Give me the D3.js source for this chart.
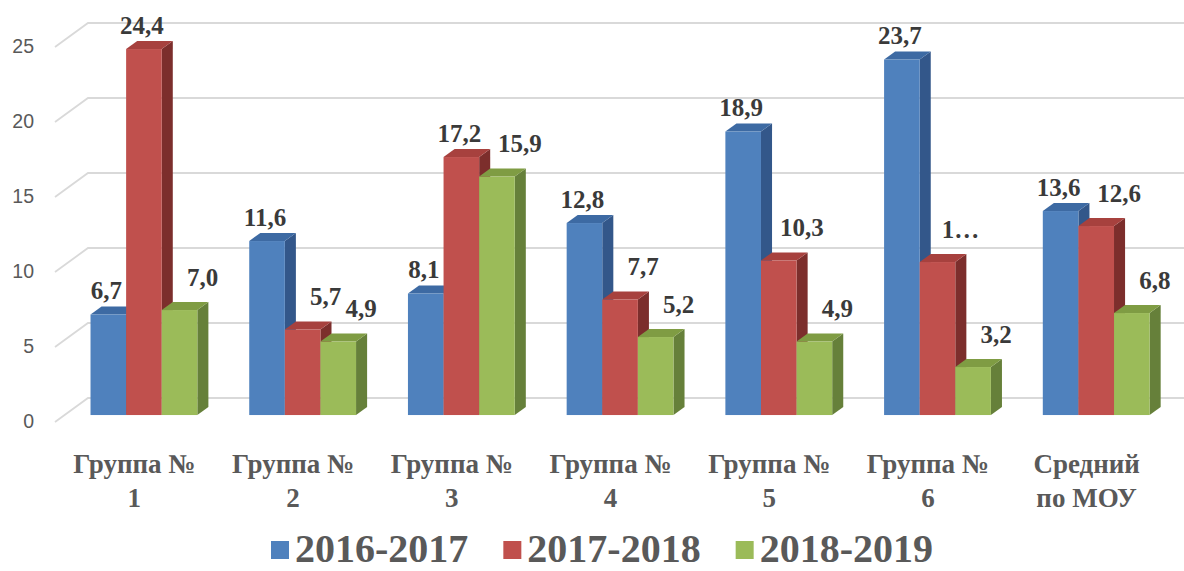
<!DOCTYPE html>
<html>
<head>
<meta charset="utf-8">
<script src="https://cdn.jsdelivr.net/npm/d3@7/dist/d3.min.js"></script>
<style>
  html, body { margin: 0; padding: 0; background: #fff; }
  svg { display: block; }
</style>
</head>
<body>
<svg id="chart" width="1184" height="571"></svg>
<script>
// ---------------------------------------------------------------------------
// Data
// ---------------------------------------------------------------------------

const categories = [
  ["Группа №", "1"],
  ["Группа №", "2"],
  ["Группа №", "3"],
  ["Группа №", "4"],
  ["Группа №", "5"],
  ["Группа №", "6"],
  ["Средний", "по МОУ"],
];
const seriesNames = ["2016-2017", "2017-2018", "2018-2019"];
const values2016 = [6.7, 11.6, 8.1, 12.8, 18.9, 23.7, 13.6];
const values2017 = [24.4, 5.7, 17.2, 7.7, 10.3, 10.2, 12.6];
const values2018 = [7.0, 4.9, 15.9, 5.2, 4.9, 3.2, 6.8];
const yTicks = [0, 5, 10, 15, 20, 25];
// the original chart cut this one label short
const truncatedLabels = [{ series: 1, index: 5 }];

const seriesValues = [values2016, values2017, values2018];

// ---------------------------------------------------------------------------
// Look
// ---------------------------------------------------------------------------

const faceColors = [
  { front: "#4f81bd", top: "#3d6aa3", side: "#33578a" },
  { front: "#c0504d", top: "#a7413e", side: "#7c2e2c" },
  { front: "#9bbb59", top: "#7f9c43", side: "#66803a" },
];

const SERIF = "'Liberation Serif', 'Times New Roman', Tinos, 'DejaVu Serif', serif";
const SANS = "'Liberation Sans', Arial, sans-serif";

const WIDTH = 1184;
const FLOOR_LEFT = 55;
const FLOOR_RIGHT = 1166;
const DEPTH_DX = 33;
const DEPTH_DY = -24;
const BAR_FRONT = 0.29; // depth fraction of bar front face
const BAR_BACK = 0.625; // depth fraction of bar back face

const svg = d3.select("#chart");

const y = d3.scaleLinear().domain([0, 25]).range([422, 47]);

const x = d3
  .scaleBand()
  .domain(d3.range(categories.length))
  .range([FLOOR_LEFT, FLOOR_RIGHT])
  .paddingInner(0.327)
  .paddingOuter(0.1635);

const xs = d3
  .scaleBand()
  .domain(d3.range(seriesNames.length))
  .range([0, x.bandwidth()]);

// point on the floor/wall plane at depth fraction d
const px = (xv, d) => xv + DEPTH_DX * d;
const py = (yv, d) => yv + DEPTH_DY * d;

// ---------------------------------------------------------------------------
// Gridlines and axis
// ---------------------------------------------------------------------------

const grid = svg.append("g").attr("class", "grid");
yTicks.forEach((t) => {
  const yf = y(t);
  grid
    .append("path")
    .attr("d", `M${FLOOR_LEFT},${yf}L${px(FLOOR_LEFT, 1)},${py(yf, 1)}H${WIDTH}`)
    .attr("fill", "none")
    .attr("stroke", "#d9d9d9")
    .attr("stroke-width", 1.8);

  svg
    .append("text")
    .attr("x", 34)
    .attr("y", yf + 1)
    .attr("text-anchor", "end")
    .attr("dominant-baseline", "middle")
    .style("font-family", SANS)
    .style("font-size", "19.5px")
    .style("fill", "#595959")
    .text(t);
});

// ---------------------------------------------------------------------------
// Bars (left to right so later faces cover earlier side faces)
// ---------------------------------------------------------------------------

const bars = svg.append("g").attr("class", "bars");
const labels = svg.append("g").attr("class", "labels");
const fmt = (v) => v.toFixed(1).replace(".", ",");

categories.forEach((cat, ci) => {
  seriesValues.forEach((vals, si) => {
    const v = vals[ci];
    const c = faceColors[si];
    const x0 = x(ci) + xs(si);
    const x1 = x0 + xs.bandwidth();
    const yb = y(0);
    const yt = y(v);

    const fx0 = px(x0, BAR_FRONT), fx1 = px(x1, BAR_FRONT);
    const bx0 = px(x0, BAR_BACK), bx1 = px(x1, BAR_BACK);
    const fyt = py(yt, BAR_FRONT), fyb = py(yb, BAR_FRONT);
    const byt = py(yt, BAR_BACK), byb = py(yb, BAR_BACK);

    const g = bars.append("g");
    // side face
    g.append("path")
      .attr("d", `M${fx1},${fyt}L${bx1},${byt}L${bx1},${byb}L${fx1},${fyb}Z`)
      .attr("fill", c.side);
    // top face
    g.append("path")
      .attr("d", `M${fx0},${fyt}L${bx0},${byt}L${bx1},${byt}L${fx1},${fyt}Z`)
      .attr("fill", c.top);
    // front face
    g.append("rect")
      .attr("x", fx0)
      .attr("y", fyt)
      .attr("width", fx1 - fx0)
      .attr("height", fyb - fyt)
      .attr("fill", c.front);

    // data label; Excel nudges it to the right when the bar is shorter
    // than its left neighbour in the group
    const shorter = si > 0 && v < seriesValues[si - 1][ci];
    const truncated = truncatedLabels.some((t) => t.series === si && t.index === ci);
    const lx = (fx0 + fx1) / 2 - 2 + (shorter ? 25 : 0);
    const ly = byt - (shorter ? 16.5 : 7.5);
    labels
      .append("text")
      .attr("x", lx)
      .attr("y", ly)
      .attr("text-anchor", "middle")
      .style("font-family", SERIF)
      .style("font-weight", "bold")
      .style("font-size", "25px")
      .style("fill", "#3a3a3a")
      .text(truncated ? fmt(v).charAt(0) + "…" : fmt(v));
  });

  // category label (two lines)
  const cx = x(ci) + x.bandwidth() / 2;
  const t = svg
    .append("text")
    .attr("x", cx)
    .attr("y", 473)
    .attr("text-anchor", "middle")
    .style("font-family", SERIF)
    .style("font-weight", "bold")
    .style("font-size", "27px")
    .style("fill", "#595959");
  cat.forEach((line, li) => {
    t.append("tspan")
      .attr("x", cx)
      .attr("dy", li === 0 ? 0 : 34)
      .text(line);
  });
});

// ---------------------------------------------------------------------------
// Legend
// ---------------------------------------------------------------------------

const legend = svg.append("g").attr("class", "legend");
const SWATCH = 18;
const SWATCH_GAP = 6;
const ITEM_GAP = 35;
const items = seriesNames.map((name, i) => {
  const item = legend.append("g");
  item
    .append("rect")
    .attr("width", SWATCH)
    .attr("height", SWATCH)
    .attr("y", 541)
    .attr("fill", faceColors[i].front);
  const txt = item
    .append("text")
    .attr("x", SWATCH + SWATCH_GAP)
    .attr("y", 562)
    .style("font-family", SERIF)
    .style("font-weight", "bold")
    .style("font-size", "40px")
    .style("fill", "#595959")
    .text(name);
  return { item, w: SWATCH + SWATCH_GAP + txt.node().getComputedTextLength() };
});
const totalW = d3.sum(items, (d) => d.w) + ITEM_GAP * (items.length - 1);
let lx = 602 - totalW / 2;
items.forEach((d) => {
  d.item.attr("transform", `translate(${lx},0)`);
  lx += d.w + ITEM_GAP;
});
</script>
</body>
</html>
